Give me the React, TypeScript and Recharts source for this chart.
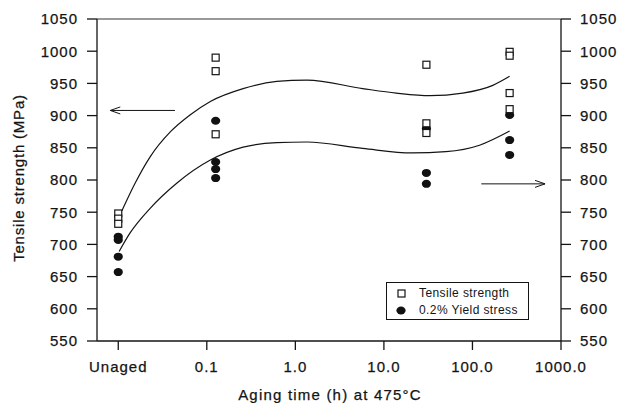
import {
  ComposedChart,
  Line,
  Scatter,
  XAxis,
  YAxis,
  ReferenceLine,
} from "recharts";

// x positions are log10(hours); "Unaged" is drawn at -2
const xTicks = [-2, -1, 0, 1, 2, 3];
const xTickLabels = ["Unaged", "0.1", "1.0", "10.0", "100.0", "1000.0"];
const yTicks = [550, 600, 650, 700, 750, 800, 850, 900, 950, 1000, 1050];

const groupX = [-2, -0.9, 1.48, 2.42];
const tensile = [
  [748, 740, 732],
  [990, 969, 871],
  [979, 888, 873],
  [999, 993, 935, 910],
];
const yieldStress = [
  [712, 707, 681, 657],
  [892, 828, 817, 803],
  [880, 811, 794],
  [901, 862, 839],
];

// fitted curves
const upperX = [-1.96, -1.81, -1.64, -1.41, -1.19, -0.96, -0.59, -0.21, 0.13, 0.76, 1.14, 1.52, 1.89, 2.23, 2.42];
const upperY = [752, 795, 836, 875, 901, 922, 942, 953, 955, 942, 935, 931, 935, 947, 961];
const lowerX = [-1.99, -1.87, -1.64, -1.34, -0.96, -0.59, -0.21, 0.13, 0.76, 1.32, 1.7, 2.08, 2.42];
const lowerY = [689, 717, 756, 795, 831, 851, 858, 859, 849, 842, 844, 854, 876];

const INK = "#141414";
const FONT = "'Liberation Sans', Arial, sans-serif";

const toPoints = (xs: number[], ys: number[]) =>
  xs.map((x, i) => ({ x, y: ys[i] }));

const flatten = (groups: number[][]) =>
  groups.flatMap((vals, g) => vals.map((y) => ({ x: groupX[g], y })));

const tensileData = flatten(tensile);
const yieldData = flatten(yieldStress);
const upperData = toPoints(upperX, upperY);
const lowerData = toPoints(lowerX, lowerY);

function OpenSquare(props: any) {
  const { cx, cy } = props;
  return (
    <rect
      x={cx - 3.5}
      y={cy - 3.5}
      width={7}
      height={7}
      fill="#fff"
      stroke={INK}
      strokeWidth={1.2}
    />
  );
}

function FilledDot(props: any) {
  const { cx, cy } = props;
  return <ellipse cx={cx} cy={cy} rx={4.6} ry={4} fill="#111" />;
}

function Arrow(props: any) {
  const { x1, y1, x2, y2 } = props;
  const dx = x2 - x1;
  const dy = y2 - y1;
  const len = Math.hypot(dx, dy) || 1;
  const ux = dx / len;
  const uy = dy / len;
  const hx = x1 + ux * 10;
  const hy = y1 + uy * 10;
  return (
    <g>
      <line x1={x1} y1={y1} x2={x2} y2={y2} stroke={INK} strokeWidth={1} />
      <polyline
        points={`${hx - uy * 3.5},${hy + ux * 3.5} ${x1},${y1} ${hx + uy * 3.5},${hy - ux * 3.5}`}
        fill="none"
        stroke={INK}
        strokeWidth={1}
      />
    </g>
  );
}

const tickStyle = {
  fill: INK,
  stroke: INK,
  strokeWidth: 0.25,
  fontSize: 15,
  letterSpacing: 1,
  fontFamily: FONT,
};

export default function App() {
  return (
    <div
      style={{
        position: "absolute",
        left: 0,
        top: 0,
        width: 618,
        height: 403,
        background: "#fff",
        fontFamily: FONT,
        color: INK,
      }}
    >
      <ComposedChart
        width={618}
        height={403}
        margin={{ top: 19, right: 0, bottom: 0, left: 0 }}
      >
        <XAxis
          type="number"
          dataKey="x"
          domain={[-2.24, 3]}
          ticks={xTicks}
          interval={0}
          allowDataOverflow
          tickFormatter={(v: number) => xTickLabels[xTicks.indexOf(v)] ?? ""}
          height={62}
          tickSize={9}
          tickMargin={11}
          stroke={INK}
          strokeWidth={1.3}
          tick={tickStyle}
        />
        <YAxis
          yAxisId="l"
          type="number"
          dataKey="y"
          domain={[550, 1050]}
          ticks={yTicks}
          interval={0}
          allowDataOverflow
          width={97}
          tickSize={10}
          tickMargin={9}
          stroke={INK}
          strokeWidth={1.3}
          tick={tickStyle}
        />
        <YAxis
          yAxisId="r"
          orientation="right"
          type="number"
          dataKey="y"
          domain={[550, 1050]}
          ticks={yTicks}
          interval={0}
          allowDataOverflow
          width={57}
          tickSize={10}
          tickMargin={9}
          stroke={INK}
          strokeWidth={1.3}
          tick={tickStyle}
        />
        <ReferenceLine yAxisId="l" y={1050} stroke="#777" strokeWidth={1.3} />

        <Line
          yAxisId="l"
          data={upperData}
          dataKey="y"
          type="monotone"
          stroke={INK}
          strokeWidth={1.2}
          dot={false}
          isAnimationActive={false}
        />
        <Line
          yAxisId="r"
          data={lowerData}
          dataKey="y"
          type="monotone"
          stroke={INK}
          strokeWidth={1.2}
          dot={false}
          isAnimationActive={false}
        />
        {/* circles first, open squares drawn over them */}
        <Scatter
          yAxisId="r"
          name="0.2% Yield stress"
          data={yieldData}
          shape={<FilledDot />}
          isAnimationActive={false}
        />
        <Scatter
          yAxisId="l"
          name="Tensile strength"
          data={tensileData}
          shape={<OpenSquare />}
          isAnimationActive={false}
        />

        <ReferenceLine
          yAxisId="l"
          segment={[
            { x: -2.09, y: 908 },
            { x: -1.36, y: 908 },
          ]}
          shape={<Arrow />}
        />
        <ReferenceLine
          yAxisId="r"
          segment={[
            { x: 2.82, y: 794 },
            { x: 2.1, y: 794 },
          ]}
          shape={<Arrow />}
        />
      </ComposedChart>

      {/* axis titles */}
      <div
        style={{
          position: "absolute",
          left: 18,
          top: 178,
          transform: "translate(-50%, -50%) rotate(-90deg)",
          whiteSpace: "nowrap",
          fontSize: 15,
          letterSpacing: 0.8,
          WebkitTextStroke: "0.25px " + INK,
        }}
      >
        Tensile strength (MPa)
      </div>
      <div
        style={{
          position: "absolute",
          left: 330,
          top: 394,
          transform: "translate(-50%, -50%)",
          whiteSpace: "nowrap",
          fontSize: 15,
          letterSpacing: 1.2,
          WebkitTextStroke: "0.25px " + INK,
        }}
      >
        Aging time (h) at 475°C
      </div>

      {/* legend */}
      <div
        style={{
          position: "absolute",
          left: 386,
          top: 282,
          width: 141,
          height: 36,
          border: `1px solid ${INK}`,
          fontSize: 12,
          letterSpacing: 0.4,
        }}
      >
        <div style={{ position: "absolute", left: 10, top: 3, display: "flex", alignItems: "center" }}>
          <svg width={9} height={9} style={{ marginRight: 13 }}>
            <rect x={1} y={1} width={7} height={7} fill="#fff" stroke={INK} strokeWidth={1.2} />
          </svg>
          <span>Tensile strength</span>
        </div>
        <div style={{ position: "absolute", left: 9, top: 20, display: "flex", alignItems: "center" }}>
          <svg width={10} height={9} style={{ marginRight: 13 }}>
            <ellipse cx={5} cy={4.5} rx={4.6} ry={4} fill="#111" />
          </svg>
          <span>0.2% Yield stress</span>
        </div>
      </div>
    </div>
  );
}
